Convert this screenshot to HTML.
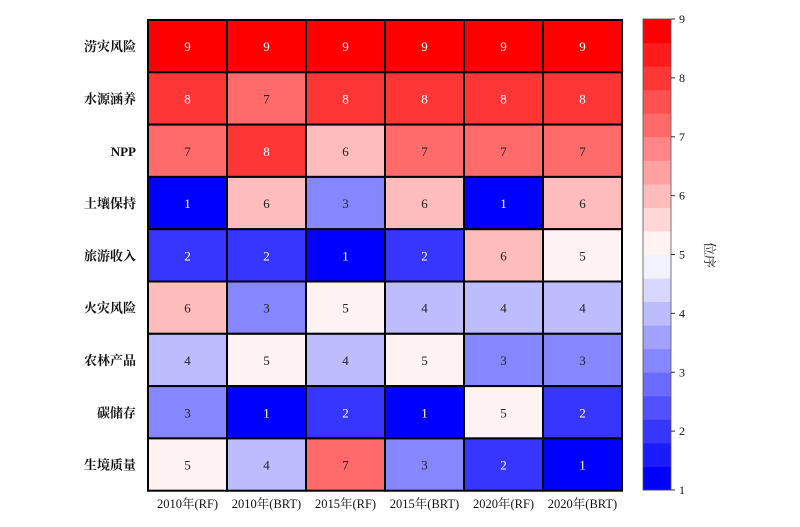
<!DOCTYPE html>
<html><head><meta charset="utf-8"><style>
body{margin:0;background:#fff;width:800px;height:522px;overflow:hidden}
svg text{font-family:"Liberation Serif","Noto Serif CJK SC",serif}
</style></head><body>
<svg id="chart" width="800" height="522" xmlns="http://www.w3.org/2000/svg"></svg>
<script>
const rowLabels=["涝灾风险","水源涵养","NPP","土壤保持","旅游收入","火灾风险","农林产品","碳储存","生境质量"];
const colLabels=["2010年(RF)","2010年(BRT)","2015年(RF)","2015年(BRT)","2020年(RF)","2020年(BRT)"];
const values=[
[9,9,9,9,9,9],
[8,7,8,8,8,8],
[7,8,6,7,7,7],
[1,6,3,6,1,6],
[2,2,1,2,6,5],
[6,3,5,4,4,4],
[4,5,4,5,3,3],
[3,1,2,1,5,2],
[5,4,7,3,2,1]];
const cbTicks=[1,2,3,4,5,6,7,8,9];
const vmin=1,vmax=9,N=20;
const L=148,T=20,CW=79,RH=52.3;
const CBX=643,CBW=28,CBT=19,CBB=490;
const svg=document.getElementById('chart');
const NS="http://www.w3.org/2000/svg";
function mk(t,a){const e=document.createElementNS(NS,t);for(const k in a)e.setAttribute(k,a[k]);svg.appendChild(e);return e;}
function color(v){let t=(v-vmin)/(vmax-vmin);let i=Math.min(N-1,Math.floor(t*N));let x=i/(N-1);let r,g,b;
if(x<0.5){r=g=2*x;b=1;}else{r=1;g=b=1-2*(x-0.5);}return `rgb(${Math.round(r*255)},${Math.round(g*255)},${Math.round(b*255)})`;}
function xs(c){return L+c*CW;} function ys(r){return T+r*RH;}
function cy(v){return CBB-(v-vmin)/(vmax-vmin)*(CBB-CBT);}
values.forEach((row,r)=>row.forEach((v,c)=>{
 const rc=mk('rect',{x:xs(c),y:ys(r),width:CW,height:RH,fill:color(v),stroke:'#000','stroke-width':2});
 
 
 const tx=mk('text',{x:xs(c)+CW/2,y:ys(r)+RH/2+5,'text-anchor':'middle','font-size':13,fill:(v>=8||v<=2)?'#fff':'#222'});
 tx.textContent=v;
 
 
}));
rowLabels.forEach((s,r)=>{const t=mk('text',{x:136,y:ys(r)+RH/2+5,'text-anchor':'end','font-size':13,'font-weight':'bold',fill:'#111'});t.textContent=s;
 
 });
colLabels.forEach((s,c)=>{const t=mk('text',{x:xs(c)+CW/2,y:508,'text-anchor':'middle','font-size':12.5,fill:'#111'});t.textContent=s;
 
 });
for(let i=0;i<N;i++){const v0=vmin+i*(vmax-vmin)/N,v1=vmin+(i+1)*(vmax-vmin)/N;
 const r=mk('rect',{x:CBX,y:cy(v1),width:CBW,height:cy(v0)-cy(v1)+0.5,fill:color((v0+v1)/2)});
 
 }
const fr=mk('rect',{x:CBX,y:CBT,width:CBW,height:CBB-CBT,fill:'none',stroke:'#555','stroke-width':0.8});


cbTicks.forEach(v=>{const l=mk('line',{x1:CBX+CBW,x2:CBX+CBW+4,y1:cy(v),y2:cy(v),stroke:'#333'});
 
 
 const t=mk('text',{x:CBX+CBW+8,y:cy(v)+4,'font-size':12,fill:'#111'});t.textContent=v;
 
 });
const ct=mk('text',{x:0,y:0,'font-size':13,fill:'#111','text-anchor':'middle',transform:'translate(705,255) rotate(90)'});
ct.textContent='位序';


</script>
</body></html>
